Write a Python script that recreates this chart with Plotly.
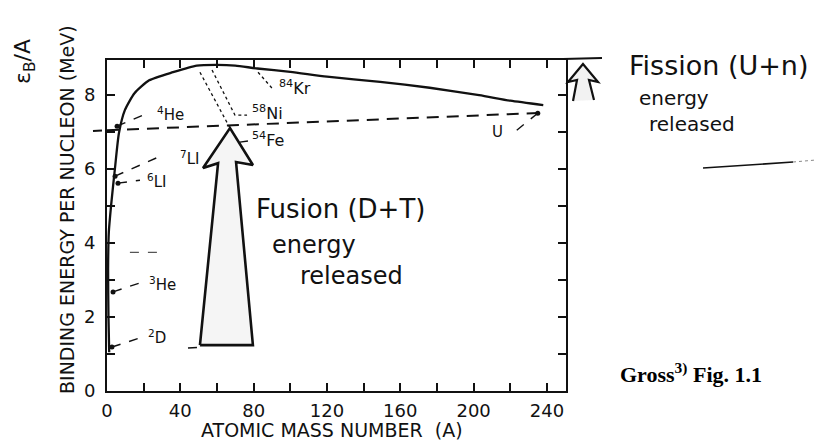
import plotly.graph_objects as go

# ---------------- data ----------------
curve_A = [1.2, 0.8, 0.6, 1.0, 2.2, 4.4, 6.5, 9.8, 15, 23, 36, 49, 60, 70, 82, 100, 120, 149, 176, 203, 220, 238]
curve_E = [1.05, 2.0, 3.3, 4.3, 5.0, 6.05, 6.97, 7.6, 8.05, 8.4, 8.62, 8.8, 8.82, 8.8, 8.72, 8.63, 8.5, 8.36, 8.2, 8.0, 7.85, 7.73]

nuclide_names = ["<sup>2</sup>D", "<sup>3</sup>He", "<sup>6</sup>LI", "<sup>7</sup>LI", "<sup>4</sup>He", "U"]
nuclide_A = [2.7, 3.3, 6.0, 4.4, 5.5, 235]
nuclide_E = [1.19, 2.68, 5.62, 5.81, 7.16, 7.51]
leader_end_A = [19.6, 19.6, 18.0, 30.5, 23.5, 221.5]
leader_end_E = [1.46, 2.95, 5.70, 6.38, 7.54, 6.97]
label_A = [21.5, 22.0, 21.0, 38.5, 26.0, 209.0]
label_E = [1.45, 2.88, 5.68, 6.30, 7.48, 7.00]

peak_names = ["<sup>84</sup>Kr", "<sup>58</sup>Ni", "<sup>54</sup>Fe"]
peak_leader_A = [[82.4, 90.0], [57.3, 69.8, 76.4], [50.7, 67.1]]
peak_leader_E = [[8.62, 8.19], [8.68, 7.46, 7.46], [8.62, 7.11]]
peak_label_A = [93.0, 78.0, 78.0]
peak_label_E = [8.22, 7.52, 6.80]
fe_short_A = [72.5, 76.9]
fe_short_E = [6.73, 6.76]

ref_A = [0, 237]          # dashed line (fusion product level to U)
ref_E = [7.05, 7.52]
stray_A = [12.5, 30.5]
stray_E = [3.75, 3.75]

arrow_A = [50.7, 60.6, 52.4, 67.1, 79.6, 70.4, 79.6, 50.7]
arrow_E = [1.24, 6.16, 6.03, 7.11, 6.11, 6.19, 1.24, 1.24]
arrow_base_A = [44.2, 51.8]
arrow_base_E = [1.16, 1.19]

x_tickvals = [0, 40, 80, 120, 160, 200, 240]
y_tickvals = [0, 2, 4, 6, 8]

# ---------------- layout geometry ----------------
W, H = 816, 443
ML, MR, MT, MB = 107, 250, 60, 52
PW, PH = W - ML - MR, H - MT - MB


def P(x, y):
    return (x - ML) / PW, (H - MB - y) / PH


INK = "#111111"
fig = go.Figure()

# fusion arrow (filled outline)
fig.add_trace(go.Scatter(x=arrow_A, y=arrow_E, mode="lines", fill="toself",
                         fillcolor="rgba(170,170,170,0.12)",
                         line=dict(color=INK, width=2.6), hoverinfo="skip"))
fig.add_trace(go.Scatter(x=arrow_base_A, y=arrow_base_E, mode="lines",
                         line=dict(color=INK, width=1.5, dash="dash"), hoverinfo="skip"))

# dashed reference line
fig.add_trace(go.Scatter(x=ref_A, y=ref_E, mode="lines",
                         line=dict(color=INK, width=2, dash="12px,8px"), hoverinfo="skip"))
fig.add_trace(go.Scatter(x=stray_A, y=stray_E, mode="lines",
                         line=dict(color="#555", width=1.2, dash="dash"), hoverinfo="skip"))

# binding energy curve
fig.add_trace(go.Scatter(x=curve_A, y=curve_E, mode="lines",
                         line=dict(color=INK, width=2.3, shape="spline", smoothing=0.6),
                         hoverinfo="skip"))

# leaders and nuclide dots
for a0, e0, a1, e1 in zip(nuclide_A, nuclide_E, leader_end_A, leader_end_E):
    fig.add_trace(go.Scatter(x=[a0, a1], y=[e0, e1], mode="lines",
                             line=dict(color=INK, width=1.4, dash="dash"), hoverinfo="skip"))
fig.add_trace(go.Scatter(x=nuclide_A, y=nuclide_E, mode="markers",
                         marker=dict(color=INK, size=5), cliponaxis=False, hoverinfo="skip"))
for la, le in zip(peak_leader_A, peak_leader_E):
    fig.add_trace(go.Scatter(x=la, y=le, mode="lines",
                             line=dict(color=INK, width=1.3, dash="dot"), hoverinfo="skip"))
fig.add_trace(go.Scatter(x=fe_short_A, y=fe_short_E, mode="lines",
                         line=dict(color=INK, width=1.4), hoverinfo="skip"))

annotations = []
lab_font = dict(family="DejaVu Sans", size=15, color=INK)
for name, a, e in zip(nuclide_names, label_A, label_E):
    annotations.append(dict(x=a, y=e, xref="x", yref="y", text=name, showarrow=False,
                            xanchor="left", yanchor="middle", font=lab_font))
for name, a, e in zip(peak_names, peak_label_A, peak_label_E):
    annotations.append(dict(x=a, y=e, xref="x", yref="y", text=name, showarrow=False,
                            xanchor="left", yanchor="middle",
                            font=dict(family="DejaVu Sans", size=16, color=INK)))


def hand(size):
    return dict(family="DejaVu Sans", size=size, color=INK)


def txt(x, y, s, font, **kw):
    px_, py_ = P(x, y)
    d = dict(x=px_, y=py_, xref="paper", yref="paper", text=s, showarrow=False,
             xanchor="center", yanchor="middle", font=font)
    d.update(kw)
    annotations.append(d)


txt(340, 209, "Fusion (D+T)", hand(26))
txt(314, 245, "energy", hand(24))
txt(351, 276, "released", hand(24))
txt(718, 66, "Fission (U+n)", hand(27))
txt(674, 98, "energy", hand(20))
txt(692, 124, "released", hand(20))
txt(25, 62, "ε<sub>B</sub>/A", dict(family="DejaVu Sans", size=22, color=INK), textangle=-90)
txt(67, 210, "BINDING ENERGY PER NUCLEON (MeV)", dict(family="DejaVu Sans", size=19, color=INK), textangle=-90)
txt(332, 430, "ATOMIC MASS NUMBER  (A)", dict(family="DejaVu Sans", size=19, color=INK))
txt(691, 373, "Gross<sup>3)</sup> Fig. 1.1", dict(family="Liberation Serif", size=22, color="#000", weight="bold"))

# shapes outside the plot: fission arrow and stray line
shapes = []


def path(points):
    pts = [P(x, y) for x, y in points]
    return "M " + " L ".join(f"{a:.4f},{b:.4f}" for a, b in pts)


shapes.append(dict(type="path", xref="paper", yref="paper",
                   path=path([(563, 59), (602, 58)]), line=dict(color=INK, width=2)))
shapes.append(dict(type="path", xref="paper", yref="paper",
                   path=path([(573, 101), (577, 80), (568, 82), (583, 64), (598, 82), (589, 80), (594, 100)]),
                   fillcolor="rgba(170,170,170,0.15)", line=dict(color=INK, width=2.2)))
shapes.append(dict(type="path", xref="paper", yref="paper",
                   path=path([(703, 168), (793, 162)]), line=dict(color=INK, width=1.6)))
shapes.append(dict(type="path", xref="paper", yref="paper",
                   path=path([(793, 162), (816, 160)]), line=dict(color="#888", width=1, dash="dot")))
x0p, _ = P(93, 0)
shapes.append(dict(type="line", xref="paper", yref="y", x0=x0p, x1=0, y0=7.03, y1=7.05,
                   line=dict(color=INK, width=2, dash="dash")))

axis_common = dict(showline=True, linecolor=INK, linewidth=2, mirror="ticks",
                   ticks="inside", ticklen=8, tickwidth=1.6, tickcolor=INK,
                   showgrid=False, zeroline=False,
                   tickfont=dict(family="DejaVu Sans", size=18, color=INK))

fig.update_layout(
    width=W, height=H,
    margin=dict(l=ML, r=MR, t=MT, b=MB),
    paper_bgcolor="white", plot_bgcolor="white",
    showlegend=False,
    xaxis=dict(range=[0, 250.4], tickvals=x_tickvals, ticklabelstandoff=2,
               minor=dict(dtick=20, ticks="inside", ticklen=8, tickwidth=1.6, tickcolor=INK),
               **axis_common),
    yaxis=dict(range=[0, 8.95], tickvals=y_tickvals, ticklabelstandoff=6,
               minor=dict(dtick=1, ticks="inside", ticklen=8, tickwidth=1.6, tickcolor=INK),
               **axis_common),
    annotations=annotations,
    shapes=shapes,
)

fig.write_html("out.html")
